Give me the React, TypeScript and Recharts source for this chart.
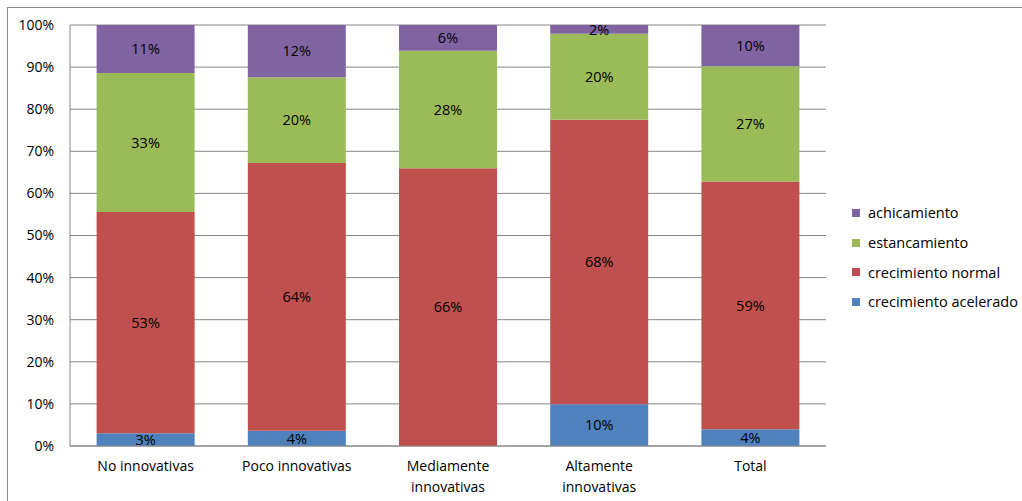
import { BarChart, Bar, XAxis, YAxis, CartesianGrid, LabelList, Text } from "recharts"

const categories = ["No innovativas", "Poco innovativas", "Mediamente innovativas", "Altamente innovativas", "Total"]
const acelerado = [3.0, 3.6, 0, 9.9, 4.0]
const normal = [52.6, 63.6, 66.0, 67.6, 58.8]
const estancamiento = [33.0, 20.4, 27.9, 20.4, 27.4]
const achicamiento = [11.4, 12.4, 6.1, 2.1, 9.8]
const yTicks = [0, 10, 20, 30, 40, 50, 60, 70, 80, 90, 100]

const series = [
  { key: "acelerado", name: "crecimiento acelerado", color: "#4F81BD", values: acelerado },
  { key: "normal", name: "crecimiento normal", color: "#C0504D", values: normal },
  { key: "estancamiento", name: "estancamiento", color: "#9BBB59", values: estancamiento },
  { key: "achicamiento", name: "achicamiento", color: "#8064A2", values: achicamiento },
]

const data = categories.map((name, i) => {
  const row: Record<string, string | number> = { name }
  series.forEach((s) => {
    row[s.key] = s.values[i]
  })
  return row
})

const font = "'Open Sans', sans-serif"

function CategoryTick(props: any) {
  const { x, y, payload } = props
  return (
    <Text
      x={x}
      y={y + 7}
      width={120}
      textAnchor="middle"
      verticalAnchor="start"
      lineHeight={21}
      fontSize={14}
      fontFamily={font}
      fill="#000"
    >
      {payload.value}
    </Text>
  )
}

const pct = (v: any) => (Number(v) > 0 ? `${Math.round(Number(v))}%` : "")

export default function App() {
  return (
    <div style={{ position: "absolute", left: 0, top: 0, width: 1022, height: 501, background: "#fff", fontFamily: font }}>
      <div
        style={{
          position: "absolute",
          left: 7,
          top: 7,
          width: 1015,
          height: 494,
          borderTop: "1px solid #8c8c8c",
          borderLeft: "1px solid #8c8c8c",
        }}
      />
      <div style={{ position: "absolute", left: 0, top: 0 }}>
        <BarChart
          width={1022}
          height={501}
          data={data}
          margin={{ top: 25, right: 196, left: 8, bottom: 25 }}
          barCategoryGap="17.6%"
        >
          <CartesianGrid vertical={false} stroke="#868686" />
          <XAxis
            dataKey="name"
            height={30}
            stroke="#868686"
            tickLine={false}
            tick={<CategoryTick />}
            interval={0}
          />
          <YAxis
            width={62}
            domain={[0, 100]}
            ticks={yTicks}
            stroke="#868686"
            tickLine={false}
            tickSize={6}
            tickMargin={10}
            tickFormatter={(v) => `${v}%`}
            tick={{ fill: "#000", fontSize: 14, fontFamily: font }}
          />
          {series.map((s) => (
            <Bar key={s.key} dataKey={s.key} name={s.name} stackId="a" fill={s.color} isAnimationActive={false}>
              <LabelList
                dataKey={s.key}
                position="center"
                formatter={pct}
                fill="#000"
                fontSize={14.5}
                fontFamily={font}
              />
            </Bar>
          ))}
        </BarChart>
      </div>
      <div style={{ position: "absolute", left: 852, top: 198 }}>
        {[...series].reverse().map((s) => (
          <div key={s.key} style={{ display: "flex", alignItems: "center", height: 29.7, fontSize: 14.5, color: "#000" }}>
            <span style={{ width: 8, height: 8, background: s.color, marginRight: 8, display: "inline-block" }} />
            <span>{s.name}</span>
          </div>
        ))}
      </div>
    </div>
  )
}
